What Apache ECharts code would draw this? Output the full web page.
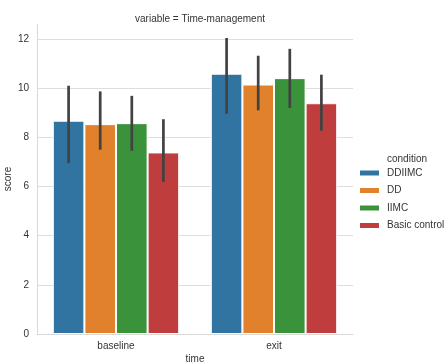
<!DOCTYPE html>
<html><head><meta charset="utf-8">
<script src="https://cdn.jsdelivr.net/npm/echarts@6/dist/echarts.min.js"></script>
<style>html,body{margin:0;padding:0;background:#fff}#c{width:447px;height:363px}</style>
</head><body><div id="c"></div>
<script>
var categories = ['baseline', 'exit'];
var conditions = ['DDIIMC', 'DD', 'IIMC', 'Basic control'];
var colors = ['#3274a1', '#e1812c', '#3a923a', '#c03d3e'];
var means = {
  'DDIIMC': [8.67, 10.58],
  'DD': [8.53, 10.14],
  'IIMC': [8.57, 10.40],
  'Basic control': [7.38, 9.38]
};
var ciLow = {
  'DDIIMC': [6.94, 8.95],
  'DD': [7.49, 9.09],
  'IIMC': [7.45, 9.19],
  'Basic control': [6.18, 8.26]
};
var ciHigh = {
  'DDIIMC': [10.09, 12.03],
  'DD': [9.86, 11.31],
  'IIMC': [9.68, 11.59],
  'Basic control': [8.73, 10.54]
};
var yTicks = [0, 2, 4, 6, 8, 10, 12];

var font = 'Liberation Sans, Arial, sans-serif';
var chart = echarts.init(document.getElementById('c'));
var series = [];
conditions.forEach(function (name, i) {
  series.push({
    name: name, type: 'bar', data: means[name],
    barGap: '0%', barCategoryGap: '20%',
    itemStyle: { color: colors[i], borderColor: '#fff', borderWidth: 1 },
    emphasis: { disabled: true }
  });
});
conditions.forEach(function (name, i) {
  var data = categories.map(function (c, k) { return [k, ciLow[name][k], ciHigh[name][k]]; });
  series.push({
    type: 'custom', data: data, z: 10, silent: true,
    renderItem: function (params, api) {
      var band = api.size([1, 0])[0];
      var off = (-0.4 + (i + 0.5) * 0.2) * band;
      var p1 = api.coord([api.value(0), api.value(1)]);
      var p2 = api.coord([api.value(0), api.value(2)]);
      return { type: 'line', shape: { x1: p1[0] + off, y1: p1[1], x2: p2[0] + off, y2: p2[1] },
        style: { stroke: '#424242', lineWidth: 2.7 } };
    }
  });
});
chart.setOption({
  animation: false,
  title: [
    { text: 'variable = Time-management', left: 195, top: 9, textAlign: 'center',
      textStyle: { fontFamily: font, fontSize: 10, fontWeight: 'normal', color: '#333' } },
    { text: 'condition', left: 402, top: 149, textAlign: 'center',
      textStyle: { fontFamily: font, fontSize: 10, fontWeight: 'normal', color: '#333' } }
  ],
  legend: {
    data: conditions, orient: 'vertical', left: 353, top: 163,
    icon: 'rect', itemWidth: 21, itemHeight: 7, itemGap: 7.5,
    textStyle: { fontFamily: font, fontSize: 10, color: '#333', padding: [0, 0, 0, 2] }
  },
  grid: { left: 37, right: 94, top: 24, bottom: 29, outerBoundsMode: 'none', containLabel: false },
  xAxis: {
    type: 'category', data: categories,
    name: 'time', nameLocation: 'middle', nameGap: 20, nameMoveOverlap: false,
    nameTextStyle: { fontFamily: font, fontSize: 10, color: '#333' },
    axisLine: { lineStyle: { color: '#d9d9d9', width: 1 } },
    axisTick: { show: false },
    axisLabel: { fontFamily: font, fontSize: 10, color: '#333', margin: 7 }
  },
  yAxis: {
    type: 'value', min: yTicks[0], max: 12.6, interval: 2,
    name: 'score', nameLocation: 'middle', nameGap: 24, nameMoveOverlap: false,
    nameTextStyle: { fontFamily: font, fontSize: 10, color: '#333' },
    axisLine: { show: true, lineStyle: { color: '#d9d9d9', width: 1 } },
    axisTick: { show: false },
    axisLabel: { fontFamily: font, fontSize: 10, color: '#333', margin: 8, showMaxLabel: false,
      formatter: function (v) { return yTicks.indexOf(v) >= 0 ? String(v) : ''; } },
    splitLine: { show: true, showMaxLine: false, lineStyle: { color: '#dedede', width: 1 } }
  },
  series: series
});
</script></body></html>
